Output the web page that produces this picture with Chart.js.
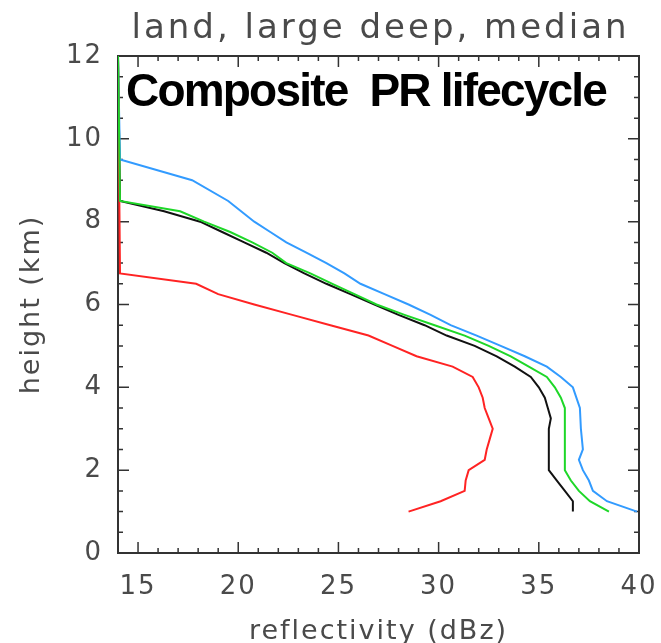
<!DOCTYPE html>
<html>
<head>
<meta charset="utf-8">
<script src="https://cdn.jsdelivr.net/npm/chart.js@4.4.1/dist/chart.umd.min.js"></script>
<style>
  html, body { margin: 0; padding: 0; background: #fff; }
  canvas { display: block; }
</style>
</head>
<body>
<canvas id="profileChart" width="661" height="643"></canvas>
<script>
// median reflectivity profiles (dBz) vs height (km), one pair of arrays per stage
const green_height = [1.0, 1.25, 1.5, 1.75, 2.0, 2.5, 3.0, 3.5, 3.75, 4.0, 4.25, 4.5, 4.75, 5.0, 5.25, 5.5, 5.75, 6.0, 6.25, 6.5, 6.75, 7.0, 7.25, 7.5, 7.75, 8.0, 8.25, 8.5, 12.0]
const green_dbz = [38.5, 37.55, 37.0, 36.6, 36.3, 36.3, 36.3, 36.3, 36.1, 35.8, 35.4, 34.5, 33.6, 32.5, 31.3, 29.8, 28.3, 26.9, 25.8, 24.7, 23.6, 22.4, 21.7, 20.7, 19.6, 18.3, 17.1, 14.1, 14.0]

const red_height = [1.0, 1.25, 1.5, 1.75, 2.0, 2.25, 2.5, 2.75, 3.0, 3.25, 3.5, 3.75, 4.0, 4.25, 4.5, 4.75, 5.0, 5.25, 5.5, 5.75, 6.0, 6.25, 6.5, 6.75, 12.0]
const red_dbz = [28.5, 30.1, 31.3, 31.35, 31.5, 32.3, 32.4, 32.55, 32.7, 32.5, 32.3, 32.2, 32.0, 31.7, 30.7, 28.9, 27.7, 26.5, 24.6, 22.7, 20.8, 19.0, 17.9, 14.1, 14.0]

const blue_height = [1.0, 1.25, 1.5, 1.75, 2.0, 2.25, 2.5, 3.0, 3.5, 4.0, 4.25, 4.5, 4.75, 5.0, 5.25, 5.5, 5.75, 6.0, 6.25, 6.5, 6.75, 7.0, 7.25, 7.5, 7.75, 8.0, 8.5, 9.0, 9.5, 12.0]
const blue_dbz = [39.9, 38.4, 37.7, 37.5, 37.2, 37.0, 37.2, 37.1, 37.05, 36.7, 36.1, 35.4, 34.3, 33.1, 31.9, 30.6, 29.6, 28.5, 27.3, 26.1, 25.3, 24.4, 23.4, 22.4, 21.6, 20.8, 19.5, 17.7, 14.1, 14.0]

const black_height = [1.0, 1.25, 1.5, 1.75, 2.0, 2.5, 3.0, 3.25, 3.5, 3.75, 4.0, 4.25, 4.5, 4.75, 5.0, 5.25, 5.5, 5.75, 6.0, 6.25, 6.5, 6.75, 7.0, 7.25, 7.5, 7.75, 8.0, 8.25, 8.5, 12.0]
const black_dbz = [36.7, 36.7, 36.3, 35.9, 35.5, 35.5, 35.5, 35.6, 35.45, 35.3, 35.0, 34.6, 33.8, 32.9, 31.8, 30.4, 29.3, 28.0, 26.8, 25.6, 24.4, 23.3, 22.3, 21.4, 20.3, 19.2, 18.1, 16.3, 14.1, 14.0]

const x_ticks = [15, 20, 25, 30, 35, 40]
const y_ticks = [0, 2, 4, 6, 8, 10, 12]

function toPoints(dbz, height) {
  return dbz.map((v, i) => ({x: v, y: height[i]}))
}

const textColor = '#4a4a4a'
const axisColor = '#333'

// IDL-style box with inward ticks on all four sides
const frameTicks = {
  id: 'frameTicks',
  beforeDraw(chart) {
    chart.ctx.letterSpacing = '2px'
  },
  beforeDatasetsDraw(chart) {
    const {ctx, chartArea: a, scales: {x, y}} = chart
    ctx.save()
    ctx.strokeStyle = axisColor
    ctx.lineWidth = 1.5
    ctx.beginPath()
    for (let v = 14; v <= 40; v++) {
      const px = x.getPixelForValue(v)
      const len = v % 5 == 0 ? 11 : 5
      ctx.moveTo(px, a.bottom); ctx.lineTo(px, a.bottom - len)
      ctx.moveTo(px, a.top); ctx.lineTo(px, a.top + len)
    }
    for (let v = 0; v <= 12; v += 0.5) {
      const py = y.getPixelForValue(v)
      const len = v % 2 == 0 ? 11 : 5
      ctx.moveTo(a.left, py); ctx.lineTo(a.left + len, py)
      ctx.moveTo(a.right, py); ctx.lineTo(a.right - len, py)
    }
    ctx.stroke()
    ctx.lineWidth = 2
    ctx.strokeRect(a.left, a.top, a.right - a.left, a.bottom - a.top)
    ctx.restore()
  },
  afterDraw(chart) {
    const {ctx, chartArea: a} = chart
    ctx.save()
    ctx.letterSpacing = '3px'
    ctx.fillStyle = '#4a4a4a'
    ctx.font = '34px "DejaVu Sans"'
    ctx.textAlign = 'center'
    ctx.textBaseline = 'alphabetic'
    ctx.fillText('land, large deep, median', (a.left + a.right) / 2 + 2, 38)

    ctx.letterSpacing = '-1.8px'
    ctx.fillStyle = '#000'
    ctx.font = 'bold 46px "Liberation Sans"'
    ctx.textAlign = 'left'
    ctx.fillText('Composite  PR lifecycle', 126, 106)
    ctx.restore()
  }
}

const profileCanvas = document.getElementById('profileChart')
new Chart(
  profileCanvas,
  {
    type: 'line',
    data: {
      datasets: [
        {
          label: 'green',
          data: toPoints(green_dbz, green_height),
          borderColor: 'rgb(30, 215, 40)',
        },
        {
          label: 'red',
          data: toPoints(red_dbz, red_height),
          borderColor: 'rgb(255, 35, 35)',
        },
        {
          label: 'blue',
          data: toPoints(blue_dbz, blue_height),
          borderColor: 'rgb(50, 155, 255)',
        },
        {
          label: 'black',
          data: toPoints(black_dbz, black_height),
          borderColor: '#111',
        },
      ]
    },
    options: {
      responsive: false,
      animation: false,
      datasets: {
        line: {
          borderWidth: 2,
          pointRadius: 0,
          tension: 0,
          fill: false,
        }
      },
      layout: {
        padding: {top: 56, right: 22, left: 0, bottom: 0}
      },
      plugins: {
        legend: false,
        tooltip: false,
      },
      scales: {
        x: {
          type: 'linear',
          min: 14,
          max: 40,
          afterFit: (s) => { s.height = 90; s.paddingLeft = 0; s.paddingRight = 0 },
          afterBuildTicks: (s) => { s.ticks = x_ticks.map(v => ({value: v})) },
          grid: {display: false},
          border: {display: false},
          ticks: {
            color: textColor,
            padding: 11,
            maxRotation: 0,
            font: {family: 'DejaVu Sans', size: 26},
          },
          title: {
            display: true,
            text: 'reflectivity (dBz)',
            color: textColor,
            padding: {top: 0, bottom: -5},
            font: {family: 'DejaVu Sans', size: 27},
          },
        },
        y: {
          type: 'linear',
          min: 0,
          max: 12,
          afterFit: (s) => { s.width = 118; s.paddingTop = 0; s.paddingBottom = 0 },
          afterBuildTicks: (s) => { s.ticks = y_ticks.map(v => ({value: v})) },
          grid: {display: false},
          border: {display: false},
          ticks: {
            color: textColor,
            padding: 7,
            font: {family: 'DejaVu Sans', size: 26},
          },
          title: {
            display: true,
            text: 'height (km)',
            color: textColor,
            padding: {top: 16, bottom: 0},
            font: {family: 'DejaVu Sans', size: 27},
          },
        }
      }
    },
    plugins: [frameTicks]
  }
);
</script>
</body>
</html>
